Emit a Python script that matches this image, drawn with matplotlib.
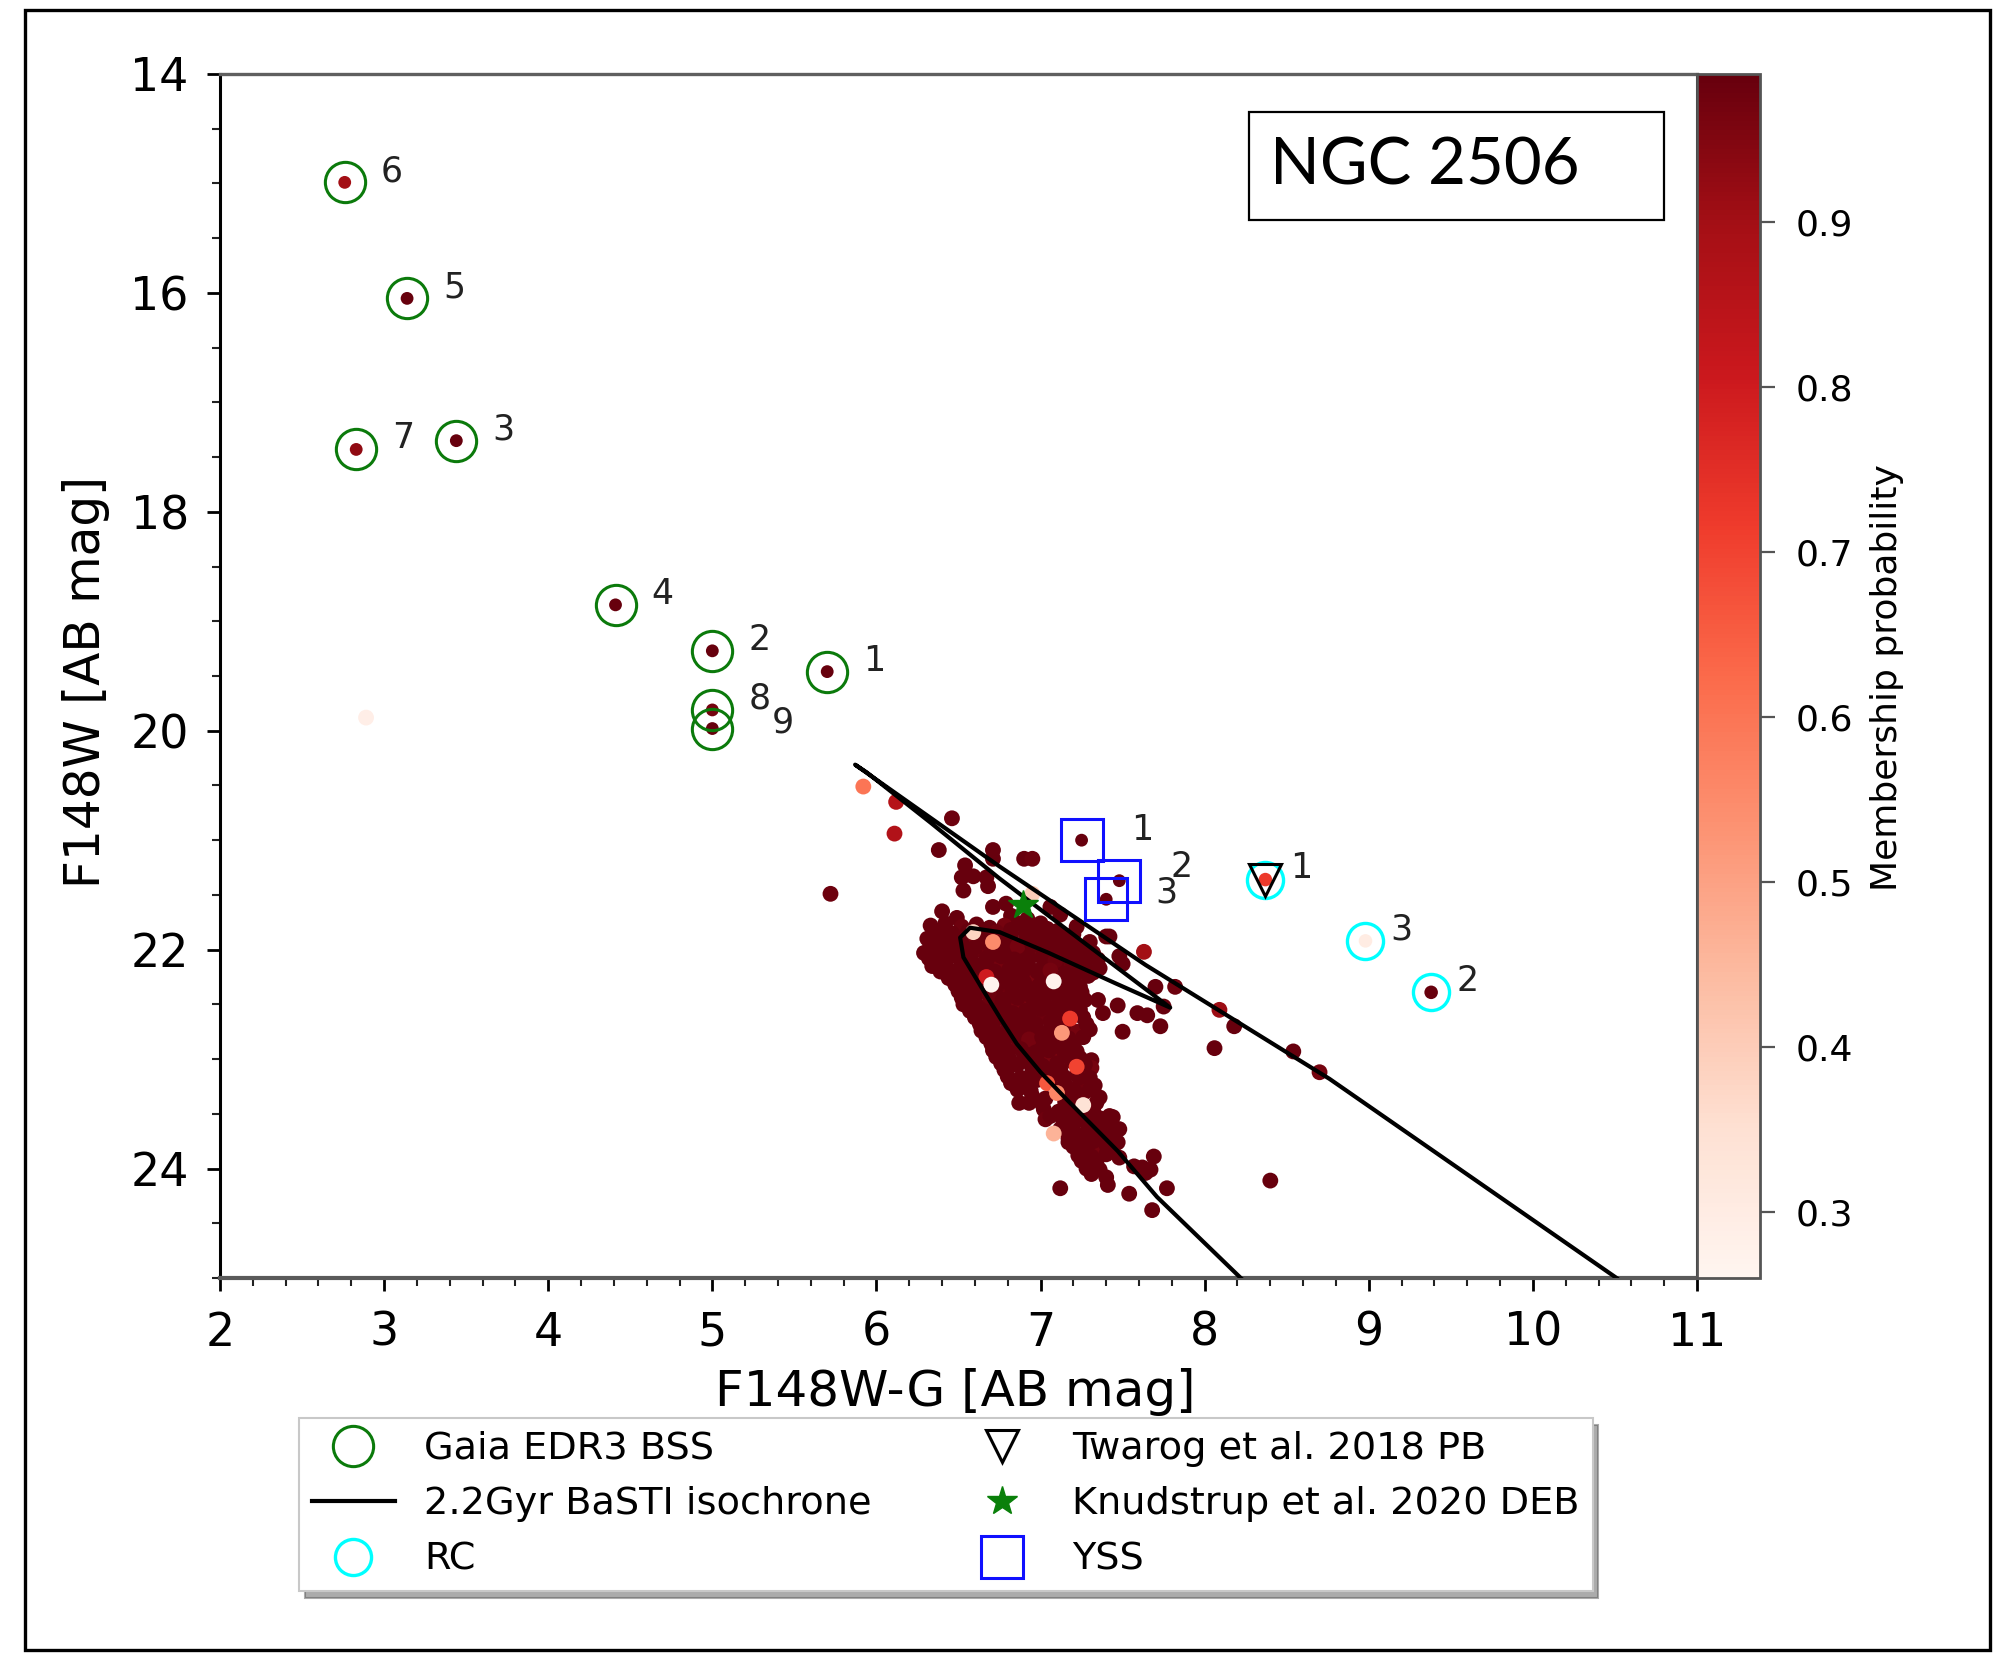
import matplotlib
matplotlib.use('Agg')
import matplotlib.pyplot as plt
from matplotlib.patches import Rectangle
from matplotlib.ticker import MultipleLocator
from matplotlib.colors import Normalize

plt.rcParams['font.family'] = ['DejaVu Sans']

# ---------------- data ----------------
# scattered members above / left of the turnoff
upper_x = [5.92, 6.12, 6.11, 6.46, 6.38, 6.71, 6.71, 6.90, 6.95, 6.54, 6.52, 6.59, 6.67,
           6.53, 6.68, 6.71, 6.79, 6.40, 6.49, 7.06, 5.72, 6.82, 6.92, 7.00, 7.12, 7.22]
upper_y = [20.51, 20.65, 20.94, 20.80, 21.09, 21.09, 21.17, 21.17, 21.17, 21.23, 21.34, 21.33, 21.34,
           21.46, 21.42, 21.61, 21.58, 21.65, 21.71, 21.61, 21.49, 21.69, 21.72, 21.76, 21.68, 21.79]
upper_p = [0.60, 0.86, 0.87, 0.98, 0.99, 0.99, 0.99, 0.99, 0.98, 0.99, 0.99, 0.99, 0.99,
           0.99, 0.99, 0.99, 0.99, 0.99, 0.99, 0.99, 0.98, 0.99, 0.99, 0.99, 0.99, 0.99]

# dense main-sequence / turnoff region
blob_x = [6.33, 6.42, 6.52, 6.61, 6.69, 6.78, 6.87, 6.96, 7.04,
          6.31, 6.40, 6.48, 6.56, 6.65, 6.74, 6.82, 6.91, 6.99, 7.08, 7.16, 7.30, 7.40,
          6.29, 6.37, 6.46, 6.54, 6.63, 6.72, 6.80, 6.89, 6.97, 7.05, 7.14, 7.22, 7.32,
          6.34, 6.42, 6.51, 6.59, 6.68, 6.76, 6.85, 6.93, 7.02, 7.10, 7.19, 7.27, 7.36, 7.50,
          6.44, 6.52, 6.61, 6.69, 6.78, 6.86, 6.95, 7.03, 7.12, 7.20, 7.29,
          6.50, 6.58, 6.66, 6.75, 6.83, 6.92, 7.00, 7.09, 7.17, 7.25, 7.35,
          6.53, 6.62, 6.70, 6.79, 6.87, 6.96, 7.04, 7.13, 7.21,
          6.60, 6.68, 6.77, 6.85, 6.94, 7.02, 7.10, 7.26, 7.38,
          6.64, 6.73, 6.81, 6.90, 6.98, 7.06, 7.22, 7.30,
          6.70, 6.78, 6.87, 6.95, 7.03, 7.12, 7.20,
          6.73, 6.81, 6.90, 6.98, 7.07, 7.15, 7.24, 7.31,
          6.78, 6.86, 6.95, 7.03, 7.12, 7.31,
          6.82, 6.90, 6.98, 7.15, 7.24, 7.33,
          6.95, 7.03, 7.18, 7.27, 7.36,
          6.87, 7.02, 7.11, 7.19, 7.32, 7.44,
          7.03, 7.14, 7.22, 7.31, 7.40, 7.45,
          7.17, 7.25, 7.33, 7.41,
          7.20, 7.28, 7.36, 7.44,
          7.25, 7.34, 7.57, 7.67, 7.69,
          7.31, 7.40, 7.64]
blob_y = [21.78, 21.76, 21.79, 21.77, 21.80, 21.78, 21.76, 21.79, 21.81,
          21.90, 21.92, 21.89, 21.91, 21.93, 21.90, 21.88, 21.92, 21.90, 21.91, 21.89, 21.93, 21.88,
          22.03, 22.01, 22.04, 22.02, 22.00, 22.03, 22.05, 22.01, 22.03, 22.02, 22.04, 22.00, 22.03,
          22.15, 22.13, 22.16, 22.14, 22.12, 22.15, 22.13, 22.16, 22.14, 22.12, 22.15, 22.13, 22.17, 22.13,
          22.26, 22.28, 22.25, 22.27, 22.26, 22.24, 22.27, 22.25, 22.28, 22.26, 22.24,
          22.38, 22.40, 22.37, 22.39, 22.38, 22.36, 22.40, 22.38, 22.37, 22.39, 22.46,
          22.50, 22.52, 22.49, 22.51, 22.50, 22.48, 22.52, 22.50, 22.49,
          22.62, 22.64, 22.61, 22.63, 22.62, 22.60, 22.64, 22.62, 22.58,
          22.74, 22.76, 22.73, 22.75, 22.74, 22.72, 22.75, 22.73,
          22.86, 22.88, 22.85, 22.87, 22.86, 22.84, 22.87,
          22.98, 23.00, 22.97, 22.99, 22.98, 22.96, 22.99, 23.01,
          23.10, 23.05, 23.09, 23.11, 23.10, 23.08,
          23.22, 23.20, 23.19, 23.23, 23.21, 23.24,
          23.34, 23.36, 23.33, 23.30, 23.35,
          23.40, 23.46, 23.48, 23.45, 23.47, 23.53,
          23.55, 23.58, 23.56, 23.59, 23.57, 23.65,
          23.72, 23.70, 23.73, 23.69,
          23.80, 23.83, 23.81, 23.84,
          23.93, 23.95, 23.98, 24.01, 23.89,
          24.05, 24.08, 24.04]
blob_p = [0.99, 0.99, 0.98, 0.99, 0.99, 0.97, 0.99, 0.99, 0.99,
          0.99, 0.99, 0.99, 0.97, 0.99, 0.99, 0.99, 0.98, 0.99, 0.99, 0.99, 0.99, 0.99,
          0.99, 0.99, 0.99, 0.99, 0.98, 0.99, 0.99, 0.99, 0.96, 0.99, 0.99, 0.99, 0.99,
          0.99, 0.99, 0.99, 0.99, 0.99, 0.97, 0.99, 0.99, 0.99, 0.99, 0.98, 0.99, 0.99, 0.99,
          0.99, 0.99, 0.99, 0.99, 0.99, 0.99, 0.96, 0.99, 0.99, 0.99, 0.99,
          0.99, 0.99, 0.99, 0.98, 0.99, 0.99, 0.99, 0.99, 0.99, 0.99, 0.99,
          0.99, 0.99, 0.99, 0.99, 0.97, 0.99, 0.99, 0.99, 0.99,
          0.99, 0.99, 0.99, 0.99, 0.99, 0.98, 0.99, 0.99, 0.99,
          0.99, 0.99, 0.99, 0.99, 0.99, 0.99, 0.97, 0.99,
          0.99, 0.99, 0.98, 0.99, 0.99, 0.99, 0.99,
          0.99, 0.99, 0.99, 0.99, 0.96, 0.99, 0.99, 0.99,
          0.99, 0.99, 0.99, 0.99, 0.99, 0.97,
          0.99, 0.99, 0.99, 0.99, 0.99, 0.99,
          0.99, 0.99, 0.99, 0.98, 0.99,
          0.99, 0.99, 0.99, 0.99, 0.99, 0.99,
          0.98, 0.99, 0.99, 0.99, 0.99, 0.99,
          0.99, 0.99, 0.99, 0.99,
          0.99, 0.99, 0.97, 0.99,
          0.99, 0.99, 0.99, 0.99, 0.99,
          0.99, 0.99, 0.99]

# further members filling the dense region
fill_x = [6.37, 6.46, 6.56, 6.65, 6.73, 6.82, 6.91, 7.00, 7.10, 7.20,
          6.33, 6.44, 6.52, 6.60, 6.69, 6.78, 6.86, 6.95, 7.03, 7.12, 7.20, 7.27,
          6.32, 6.41, 6.50, 6.58, 6.67, 6.76, 6.84, 6.93, 7.01, 7.09, 7.18, 7.26, 7.35,
          6.39, 6.47, 6.55, 6.64, 6.72, 6.81, 6.89, 6.98, 7.06, 7.15, 7.23, 7.32,
          6.48, 6.56, 6.64, 6.73, 6.82, 6.90, 6.99, 7.07, 7.16, 7.24,
          6.52, 6.60, 6.69, 6.77, 6.86, 6.94, 7.02, 7.11, 7.19, 7.27,
          6.57, 6.66, 6.74, 6.83, 6.91, 7.00, 7.08, 7.17, 7.24,
          6.63, 6.71, 6.80, 6.88, 6.97, 7.06, 7.14, 7.28,
          6.67, 6.76, 6.84, 6.93, 7.01, 7.09, 7.17, 7.26,
          6.71, 6.80, 6.88, 6.97, 7.05, 7.13, 7.22,
          6.76, 6.84, 6.93, 7.01, 7.10, 7.19, 7.27,
          6.80, 6.88, 6.97, 7.06, 7.14, 7.22, 7.30,
          6.86, 6.94, 7.12, 7.21, 7.30,
          6.93, 7.01, 7.15, 7.23, 7.34,
          7.06, 7.15, 7.25, 7.36, 7.42,
          7.12, 7.20, 7.29, 7.37, 7.48,
          7.17, 7.24, 7.32, 7.40, 7.47,
          7.23, 7.31, 7.40, 7.48,
          7.28, 7.36, 7.62]
fill_y = [21.84, 21.85, 21.83, 21.86, 21.84, 21.82, 21.85, 21.84, 21.83, 21.86,
          21.96, 21.97, 21.95, 21.98, 21.96, 21.94, 21.97, 21.96, 21.95, 21.98, 21.96, 21.97,
          22.08, 22.09, 22.07, 22.10, 22.08, 22.06, 22.09, 22.08, 22.07, 22.10, 22.08, 22.06, 22.09,
          22.20, 22.21, 22.19, 22.22, 22.20, 22.18, 22.21, 22.20, 22.19, 22.22, 22.20, 22.21,
          22.32, 22.33, 22.31, 22.34, 22.32, 22.30, 22.33, 22.32, 22.31, 22.34,
          22.44, 22.45, 22.43, 22.46, 22.44, 22.42, 22.45, 22.44, 22.43, 22.46,
          22.56, 22.57, 22.55, 22.58, 22.56, 22.54, 22.57, 22.56, 22.55,
          22.68, 22.69, 22.67, 22.70, 22.68, 22.66, 22.69, 22.68,
          22.80, 22.81, 22.79, 22.82, 22.80, 22.78, 22.81, 22.80,
          22.92, 22.93, 22.91, 22.94, 22.92, 22.90, 22.93,
          23.04, 23.05, 23.03, 23.06, 23.04, 23.02, 23.05,
          23.16, 23.17, 23.15, 23.18, 23.16, 23.14, 23.17,
          23.28, 23.29, 23.27, 23.30, 23.28,
          23.40, 23.41, 23.39, 23.42, 23.40,
          23.52, 23.53, 23.51, 23.54, 23.52,
          23.64, 23.65, 23.63, 23.66, 23.64,
          23.76, 23.77, 23.75, 23.78, 23.76,
          23.88, 23.89, 23.87, 23.90,
          24.00, 24.01, 23.99]
fill_p = [0.99, 0.99, 0.99, 0.99, 0.98, 0.99, 0.99, 0.99, 0.99, 0.99,
          0.99, 0.99, 0.99, 0.99, 0.99, 0.99, 0.97, 0.99, 0.99, 0.99, 0.99, 0.99,
          0.99, 0.99, 0.99, 0.99, 0.99, 0.99, 0.99, 0.99, 0.99, 0.98, 0.99, 0.99, 0.99,
          0.99, 0.99, 0.99, 0.99, 0.99, 0.99, 0.99, 0.99, 0.97, 0.99, 0.99, 0.99,
          0.99, 0.99, 0.99, 0.99, 0.99, 0.99, 0.99, 0.99, 0.99, 0.99,
          0.99, 0.99, 0.98, 0.99, 0.99, 0.99, 0.99, 0.99, 0.99, 0.99,
          0.99, 0.99, 0.99, 0.99, 0.99, 0.99, 0.99, 0.99, 0.99,
          0.99, 0.99, 0.99, 0.99, 0.99, 0.99, 0.99, 0.99,
          0.99, 0.99, 0.99, 0.97, 0.99, 0.99, 0.99, 0.99,
          0.99, 0.99, 0.99, 0.99, 0.99, 0.99, 0.99,
          0.99, 0.99, 0.99, 0.99, 0.99, 0.99, 0.99,
          0.99, 0.99, 0.99, 0.99, 0.99, 0.99, 0.99,
          0.99, 0.99, 0.99, 0.99, 0.99,
          0.99, 0.99, 0.99, 0.99, 0.99,
          0.99, 0.99, 0.99, 0.99, 0.99,
          0.99, 0.99, 0.99, 0.99, 0.99,
          0.99, 0.99, 0.99, 0.99, 0.99,
          0.99, 0.99, 0.99, 0.99,
          0.99, 0.99, 0.99]

# sparse members: faint tail, near the giant branch and the far blue one
outer_x = [7.12, 7.41, 7.54, 7.77, 7.68, 8.40,
           7.42, 7.63, 7.48, 7.70, 7.82, 7.47, 7.59, 7.65, 7.75, 7.50, 7.73, 8.09, 8.18, 8.06, 8.54, 8.70,
           2.89]
outer_y = [24.18, 24.15, 24.23, 24.18, 24.38, 24.11,
           21.88, 22.02, 22.06, 22.34, 22.34, 22.51, 22.58, 22.60, 22.52, 22.75, 22.70, 22.55, 22.70, 22.90, 22.93, 23.12,
           19.88]
outer_p = [0.99, 0.99, 0.99, 0.99, 0.99, 0.99,
           0.99, 0.90, 0.99, 0.99, 0.98, 0.99, 0.99, 0.99, 0.99, 0.99, 0.99, 0.91, 0.99, 0.99, 0.99, 0.97,
           0.29]

# lower-probability members visible on top of the dense region
light_x = [6.95, 6.71, 6.59, 6.67, 6.70, 7.08, 7.18, 7.13, 7.22, 7.04, 7.10, 7.26, 7.08]
light_y = [21.49, 21.93, 21.84, 22.25, 22.32, 22.29, 22.63, 22.76, 23.07, 23.22, 23.31, 23.42, 23.68]
light_p = [0.40, 0.55, 0.38, 0.80, 0.27, 0.27, 0.72, 0.52, 0.70, 0.66, 0.56, 0.34, 0.46]

# Gaia EDR3 blue stragglers
bss_x = [2.76, 3.14, 2.83, 3.44, 4.41, 5.00, 5.70, 5.00, 5.00]
bss_y = [14.99, 16.05, 17.43, 17.35, 18.85, 19.27, 19.46, 19.81, 19.98]
bss_p = [0.90, 0.99, 0.93, 0.99, 0.99, 0.99, 0.99, 0.97, 0.99]
bss_id = ['6', '5', '7', '3', '4', '2', '1', '8', '9']

# red clump
rc_x = [8.37, 9.38, 8.98]
rc_y = [21.36, 22.39, 21.92]
rc_p = [0.72, 0.99, 0.30]
rc_id = ['1', '2', '3']

# Twarog et al. 2018 PB
pb_x = [8.37]
pb_y = [21.36]

# Knudstrup et al. 2020 DEB
deb_x = [6.895]
deb_y = [21.59]

# yellow straggler stars
yss_x = [7.25, 7.48, 7.40]
yss_y = [21.00, 21.37, 21.54]
yss_p = [0.99, 0.99, 0.99]
yss_id = ['1', '2', '3']

# 2.2 Gyr BaSTI isochrone
iso_x = [8.22, 7.71, 7.47, 7.16, 7.00, 6.855, 6.76, 6.65, 6.53, 6.51, 6.57, 6.75, 7.05, 7.46, 7.67, 7.79,
         7.26, 6.75, 6.33, 5.94, 5.87, 6.75, 7.64, 8.76, 10.51]
iso_y = [25.00, 24.26, 23.84, 23.37, 23.12, 22.86, 22.64, 22.37, 22.07, 21.89, 21.80, 21.84, 22.03, 22.31, 22.45, 22.53,
         21.93, 21.35, 20.84, 20.38, 20.31, 21.24, 22.14, 23.18, 25.00]

cbar_ticks = [0.3, 0.4, 0.5, 0.6, 0.7, 0.8, 0.9]

# ---------------- figure ----------------
W, H = 1998, 1654
fig = plt.figure(figsize=(W / 100, H / 100), dpi=100)
fig.patch.set_facecolor('white')

ax = fig.add_axes([220 / W, 1 - 1278 / H, 1477 / W, 1204 / H])
cax = fig.add_axes([1697 / W, 1 - 1278 / H, 63 / W, 1204 / H])

norm = Normalize(vmin=0.26, vmax=0.99)
cmap = 'Reds'

all_x = upper_x + blob_x + fill_x + outer_x + light_x
all_y = upper_y + blob_y + fill_y + outer_y + light_y
all_p = upper_p + blob_p + fill_p + outer_p + light_p
sc = ax.scatter(all_x, all_y, c=all_p, cmap=cmap, norm=norm, s=130, linewidths=0, zorder=2)

ax.scatter(bss_x, bss_y, c=bss_p, cmap=cmap, norm=norm, s=85, linewidths=0, zorder=2)
ax.scatter(rc_x, rc_y, c=rc_p, cmap=cmap, norm=norm, s=95, linewidths=0, zorder=2)
ax.scatter(yss_x, yss_y, c=yss_p, cmap=cmap, norm=norm, s=85, linewidths=0, zorder=2)

h_iso, = ax.plot(iso_x, iso_y, '-', color='black', lw=3, zorder=3, solid_joinstyle='round',
                 label='2.2Gyr BaSTI isochrone')
h_bss, = ax.plot(bss_x, bss_y, 'o', ms=29, mfc='none', mec='#0b7a0b', mew=2.2, ls='none',
                 zorder=4, label='Gaia EDR3 BSS')
h_rc, = ax.plot(rc_x, rc_y, 'o', ms=26, mfc='none', mec='#00ffff', mew=2.4, ls='none',
                zorder=4, label='RC')
h_pb, = ax.plot(pb_x, pb_y, 'v', ms=23, mfc='none', mec='black', mew=2.2, ls='none',
                zorder=5, label='Twarog et al. 2018 PB')
h_deb, = ax.plot(deb_x, deb_y, '*', ms=22, mfc='#0a800a', mec='#0a800a', ls='none',
                 zorder=5, label='Knudstrup et al. 2020 DEB')
h_yss, = ax.plot(yss_x, yss_y, 's', ms=30, mfc='none', mec='#1010ff', mew=2.2, ls='none',
                 zorder=5, label='YSS')

# point labels
lab_kw = dict(textcoords='offset points', fontsize=25, color='#222222', ha='center', va='center', zorder=6)
bss_off = {'9': (51, 4)}
for xi, yi, t in zip(bss_x, bss_y, bss_id):
    ax.annotate(t, (xi, yi), xytext=bss_off.get(t, (34, 8)), **lab_kw)
yss_off = {'2': (45, 10), '3': (43, 5)}
for xi, yi, t in zip(yss_x, yss_y, yss_id):
    ax.annotate(t, (xi, yi), xytext=yss_off.get(t, (44, 7)), **lab_kw)
for xi, yi, t in zip(rc_x, rc_y, rc_id):
    ax.annotate(t, (xi, yi), xytext=(26, 8), **lab_kw)

# axes
ax.set_xlim(2, 11)
ax.set_ylim(25, 14)
ax.xaxis.set_major_locator(MultipleLocator(1))
ax.xaxis.set_minor_locator(MultipleLocator(0.2))
ax.yaxis.set_major_locator(MultipleLocator(2))
ax.yaxis.set_minor_locator(MultipleLocator(0.5))
ax.tick_params(which='major', direction='out', length=9.5, width=2, labelsize=33, colors='black')
ax.tick_params(axis='y', which='major', pad=13)
ax.tick_params(axis='x', which='major', pad=14)
ax.tick_params(which='minor', direction='out', length=5.5, width=1.5, colors='#222222')

ax.spines['left'].set_color('black')
ax.spines['left'].set_linewidth(2.2)
ax.spines['right'].set_color('black')
ax.spines['right'].set_linewidth(2.2)
ax.spines['top'].set_color('#5f5f5f')
ax.spines['top'].set_linewidth(2.4)
ax.spines['bottom'].set_color('#5a5a5a')
ax.spines['bottom'].set_linewidth(3)

ax.set_xlabel('F148W-G [AB mag]', fontsize=36)
ax.xaxis.set_label_coords(0.4976, -0.075)
ax.set_ylabel('F148W [AB mag]', fontsize=35)
ax.yaxis.set_label_coords(-0.0745, 0.495)

# colorbar
cbar = fig.colorbar(sc, cax=cax, ticks=cbar_ticks)
cbar.ax.tick_params(direction='out', length=11, width=1.6, color='#555555', labelsize=26, pad=15)
cbar.outline.set_edgecolor('#555555')
cbar.outline.set_linewidth(2)
cbar.set_label('Membership probability', fontsize=26)
cbar.ax.yaxis.set_label_coords(2.75, 0.499)

# cluster name box
fig.add_artist(Rectangle((1249 / W, 1 - 220 / H), (1664 - 1249) / W, (220 - 112) / H,
                         transform=fig.transFigure, fill=False, ec='black', lw=1.6))
fig.text(1270 / W, 1 - 166 / H, 'NGC 2506', fontsize=47, family=['Lato', 'DejaVu Sans'],
         ha='left', va='center')

# legend
leg = fig.legend(handles=[h_bss, h_iso, h_rc, h_pb, h_deb, h_yss], ncol=2,
                 loc='upper left', bbox_to_anchor=(299 / W, 1 - 1418 / H),
                 bbox_transform=fig.transFigure, borderaxespad=0, fontsize=27.5,
                 handlelength=2.17, handletextpad=0.76, borderpad=0.34,
                 columnspacing=2.33, labelspacing=0.51, fancybox=False,
                 edgecolor='#c8c8c8', framealpha=1,
                 shadow={'ox': 4, 'oy': -5, 'color': '0.35'})
leg.get_frame().set_linewidth(1.5)

# outer frame
fig.add_artist(Rectangle((25 / W, 1 - 1650 / H), (1990 - 25) / W, (1650 - 10) / H,
                         transform=fig.transFigure, fill=False, ec='black', lw=2.4))

fig.savefig('out.png', dpi=100)
